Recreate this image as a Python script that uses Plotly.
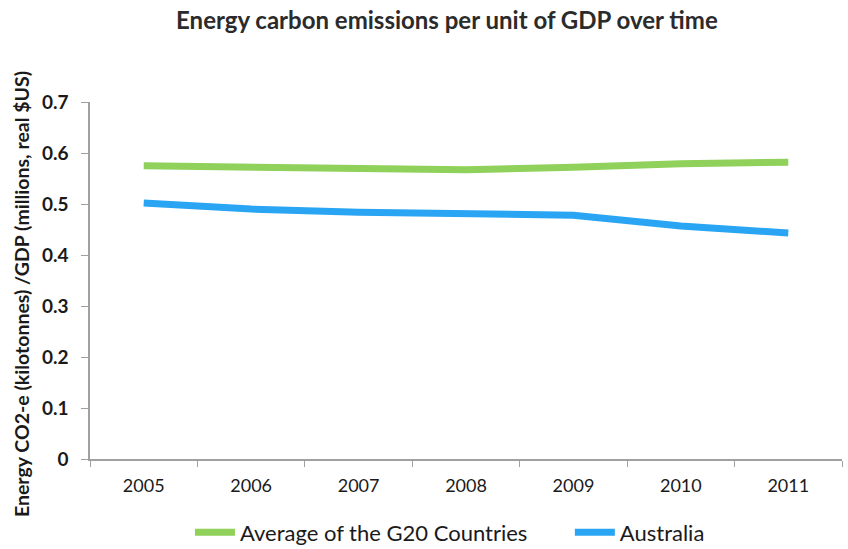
import plotly.graph_objects as go

years = ["2005", "2006", "2007", "2008", "2009", "2010", "2011"]
g20_avg = [0.575, 0.572, 0.570, 0.567, 0.572, 0.579, 0.582]
australia = [0.502, 0.490, 0.484, 0.482, 0.478, 0.457, 0.443]

font_family = "Lato, 'Open Sans', sans-serif"

fig = go.Figure()
fig.add_trace(go.Scatter(
    x=years, y=g20_avg, mode="lines", name="Average of the G20 Countries",
    line=dict(color="#8fd15a", width=7), legend="legend",
))
fig.add_trace(go.Scatter(
    x=years, y=australia, mode="lines", name="Australia",
    line=dict(color="#2aa5f3", width=7), legend="legend2",
))

legend_common = dict(
    orientation="h", yref="container", y=0.03, yanchor="middle",
    xref="container", xanchor="left",
    font=dict(size=22, color="#1a1a1a"), itemwidth=40,
    bgcolor="rgba(0,0,0,0)",
)

fig.update_layout(
    width=848, height=549,
    paper_bgcolor="white", plot_bgcolor="white",
    margin=dict(l=90, r=6, t=102, b=90, autoexpand=False),
    title=dict(
        text="<b>Energy carbon emissions per unit of GDP over time</b>",
        x=0.527, xanchor="center", y=0.963, yanchor="middle",
        font=dict(family=font_family, size=24, color="#2b2b2b"),
    ),
    font=dict(family=font_family, color="#1a1a1a"),
    showlegend=True,
    legend=dict(legend_common, x=0.224),
    legend2=dict(legend_common, x=0.672),
    xaxis=dict(
        type="category", range=[-0.5, 6.5],
        showline=True, linecolor="#a0a0a0", linewidth=1.5,
        ticks="outside", tickson="boundaries", ticklen=6, tickcolor="#a0a0a0",
        showgrid=False, zeroline=False, ticklabelstandoff=10,
        tickfont=dict(size=18, color="#1a1a1a"),
    ),
    yaxis=dict(
        range=[0, 0.7], dtick=0.1, tickformat="~g",
        showline=True, linecolor="#a0a0a0", linewidth=1.5,
        ticks="outside", ticklen=7, tickcolor="#a0a0a0",
        showgrid=False, zeroline=False, ticklabelstandoff=9,
        tickfont=dict(size=19, color="#1a1a1a", weight="bold"),
    ),
    annotations=[dict(
        text="<b>Energy CO2-e (kilotonnes) /GDP (millions, real $US)</b>",
        textangle=-90, xref="paper", yref="paper",
        x=(21 - 90) / 752, y=0.462, xanchor="center", yanchor="middle",
        showarrow=False, font=dict(family=font_family, size=19.5, color="#1a1a1a"),
    )],
)

fig.write_html("out.html")
